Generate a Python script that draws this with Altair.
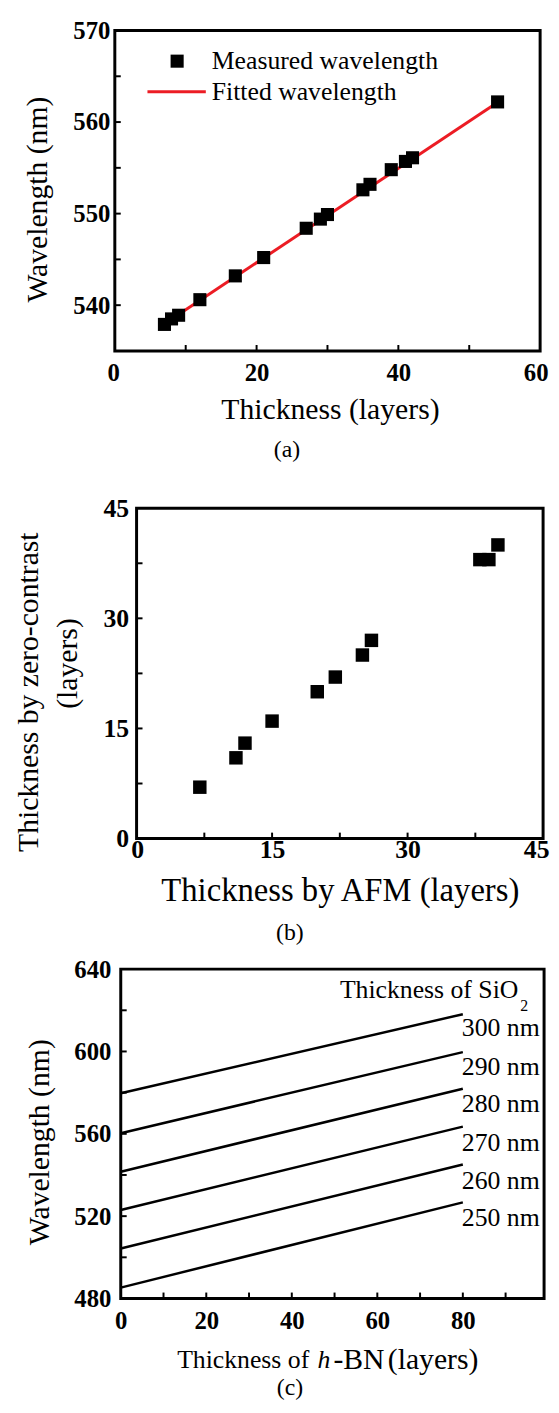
import altair as alt
import pandas as pd

FONT = "Liberation Serif"

# ---------------- data ----------------
# panel (a)
a_thick = [7, 8, 9, 12, 17, 21, 27, 29, 30, 35, 36, 39, 41, 42, 54]
a_wave = [537.9, 538.5, 538.9, 540.6, 543.2, 545.2, 548.4, 549.4, 549.9, 552.6, 553.2, 554.8, 555.7, 556.1, 562.2]
a_fit_x = [6.5, 54.5]
a_fit_y = [537.7, 562.4]
a_xlabels = [0, 20, 40, 60]
a_ylabels = [540, 550, 560, 570]
a_xticks = [10, 20, 30, 40, 50]
a_yticks = [540, 545, 550, 555, 560, 565]

# panel (b)
b_afm = [7, 11, 12, 15, 20, 22, 25, 26, 38, 39, 40]
b_zc = [7, 11, 13, 16, 20, 22, 25, 27, 38, 38, 40]
b_labels = [0, 15, 30, 45]
b_ticks = [7.5, 15, 22.5, 30, 37.5]

# panel (c)
c_sio2 = ["300 nm", "290 nm", "280 nm", "270 nm", "260 nm", "250 nm"]
c_x = [0, 80]
c_start = [579.7, 560.3, 541.6, 523.0, 504.3, 485.3]
c_end = [618.1, 599.7, 581.9, 563.5, 545.1, 526.7]
c_label_y = [611.2, 592.3, 574.4, 555.7, 537.1, 518.9]
c_xlabels = [0, 20, 40, 60, 80]
c_ylabels = [480, 520, 560, 600, 640]
c_xticks = [10, 20, 30, 40, 50, 60, 70, 80, 90]
c_yticks = [500, 520, 540, 560, 580, 600, 620]

SPACER = 1
FRAME = alt.ViewConfig(stroke="black", strokeWidth=3)


def one(text):
    return alt.Chart(pd.DataFrame({"t": [text]}))


def label(text, x, y, size, angle=0, align="center", weight="normal", style="normal", baseline="middle"):
    kw = dict(font=FONT, fontSize=size, align=align, baseline=baseline, color="black",
              fontWeight=weight, fontStyle=style)
    if angle:
        kw["angle"] = angle
    return one(text).mark_text(**kw).encode(x=alt.value(x), y=alt.value(y), text="t:N")


def anchor(L, T, top_page, bot_page):
    # white (invisible) rule that fixes the panel's layout bounds
    return one("a").mark_rule(color="white", strokeWidth=1).encode(
        x=alt.value(-(L - 8 - SPACER)), y=alt.value(top_page - T), y2=alt.value(bot_page - T))


def axis(values, size, pad, flush=0, bottom=False):
    kw = dict(values=values, title=None, grid=False, ticks=False, tickSize=0, domain=False,
              labelFont=FONT, labelFontWeight="bold", labelFontSize=size, labelColor="black",
              labelPadding=pad, labelOverlap=False, format="d")
    if bottom:
        kw["labelBaseline"] = "middle"
    if flush:
        kw["labelFlush"] = True
        kw["labelFlushOffset"] = flush
    else:
        kw["labelFlush"] = False
    return alt.Axis(**kw)


def inner_ticks(xvals, yvals, xs, ys, xax, yax, H, length=6):
    xt = alt.Chart(pd.DataFrame({"x": xvals})).mark_rule(color="black", strokeWidth=2).encode(
        x=alt.X("x:Q", scale=xs, axis=xax), y=alt.value(H), y2=alt.value(H - length))
    yt = alt.Chart(pd.DataFrame({"y": yvals})).mark_rule(color="black", strokeWidth=2).encode(
        y=alt.Y("y:Q", scale=ys, axis=yax), x=alt.value(0), x2=alt.value(length))
    return xt, yt


def row(panel):
    spacer = one("s").mark_rule(color="white", strokeWidth=1).encode(
        x=alt.value(0), x2=alt.value(SPACER), y=alt.value(0)
    ).properties(width=SPACER, height=1, view=alt.ViewConfig(stroke="transparent", strokeWidth=0))
    return alt.hconcat(spacer, panel, spacing=0).resolve_scale(x="independent", y="independent")


# ---------------- panel (a) ----------------
LA, TA, WA, HA = 112, 21, 430, 324
xs_a = alt.Scale(domain=[0, 60], nice=False, zero=False)
ys_a = alt.Scale(domain=[535, 570], nice=False, zero=False)
xax_a = axis(a_xlabels, 25, 22, flush=8, bottom=True)
yax_a = axis(a_ylabels, 25, 5)

df_a = pd.DataFrame({"x": a_thick, "y": a_wave})
df_fit = pd.DataFrame({"x": a_fit_x, "y": a_fit_y})
pts_a = alt.Chart(df_a).mark_square(color="black", size=175, opacity=1).encode(
    x=alt.X("x:Q", scale=xs_a, axis=xax_a), y=alt.Y("y:Q", scale=ys_a, axis=yax_a))
fit_a = alt.Chart(df_fit).mark_line(color="#ec1c24", strokeWidth=3).encode(
    x=alt.X("x:Q", scale=xs_a, axis=xax_a), y=alt.Y("y:Q", scale=ys_a, axis=yax_a))
xt_a, yt_a = inner_ticks(a_xticks, a_yticks, xs_a, ys_a, xax_a, yax_a, HA)
leg_sq = one("s").mark_square(color="black", size=175, opacity=1).encode(x=alt.value(63), y=alt.value(31))
leg_ln = one("l").mark_rule(color="#ec1c24", strokeWidth=3).encode(
    x=alt.value(33), x2=alt.value(92), y=alt.value(62))
panel_a = alt.layer(
    anchor(LA, TA, 8, 465), xt_a, yt_a, fit_a, pts_a, leg_sq, leg_ln,
    label("Measured wavelength", 98, 31, 26, align="left"),
    label("Fitted wavelength", 98, 62, 26, align="left"),
    label("Wavelength (nm)", -78, 171, 30, angle=270),
    label("Thickness (layers)", 218, 384, 30),
    label("(a)", 174, 424, 24),
).properties(width=WA, height=HA, view=FRAME)

# ---------------- panel (b) ----------------
LB, TB, WB, HB = 134, 500, 411, 334
xs_b = alt.Scale(domain=[0, 45], nice=False, zero=False)
ys_b = alt.Scale(domain=[0, 45], nice=False, zero=False)
xax_b = axis(b_labels, 26, 11, flush=6, bottom=True)
yax_b = axis(b_labels, 26, 8)
df_b = pd.DataFrame({"x": b_afm, "y": b_zc})
pts_b = alt.Chart(df_b).mark_square(color="black", size=185, opacity=1).encode(
    x=alt.X("x:Q", scale=xs_b, axis=xax_b), y=alt.Y("y:Q", scale=ys_b, axis=yax_b))
xt_b, yt_b = inner_ticks(b_ticks, b_ticks, xs_b, ys_b, xax_b, yax_b, HB)
panel_b = alt.layer(
    anchor(LB, TB, 465, 948), xt_b, yt_b, pts_b,
    label("Thickness by zero-contrast", -109, 186, 30, angle=270),
    label("(layers)", -69, 157, 30, angle=270),
    label("Thickness by AFM (layers)", 206, 387, 33),
    label("(b)", 155, 430, 24),
).properties(width=WB, height=HB, view=FRAME)

# ---------------- panel (c) ----------------
LC, TC, WC, HC = 118, 962, 428, 333
xs_c = alt.Scale(domain=[0, 99], nice=False, zero=False)
ys_c = alt.Scale(domain=[480, 640], nice=False, zero=False)
xax_c = axis(c_xlabels, 25, 22, bottom=True)
yax_c = axis(c_ylabels, 25, 10)
rows = []
for s, y0, y1 in zip(c_sio2, c_start, c_end):
    rows.append({"s": s, "x": c_x[0], "y": y0})
    rows.append({"s": s, "x": c_x[1], "y": y1})
df_c = pd.DataFrame(rows)
df_cl = pd.DataFrame({"s": c_sio2, "x": [c_x[1]] * len(c_sio2), "y": c_label_y})
lines_c = alt.Chart(df_c).mark_line(color="black", strokeWidth=2.5).encode(
    x=alt.X("x:Q", scale=xs_c, axis=xax_c), y=alt.Y("y:Q", scale=ys_c, axis=yax_c), detail="s:N")
labs_c = alt.Chart(df_cl).mark_text(font=FONT, fontSize=26, align="left", baseline="middle",
                                    color="black", dx=-1).encode(
    x=alt.X("x:Q", scale=xs_c, axis=xax_c), y=alt.Y("y:Q", scale=ys_c, axis=yax_c), text="s:N")
xt_c, yt_c = inner_ticks(c_xticks, c_yticks, xs_c, ys_c, xax_c, yax_c, HC)
panel_c = alt.layer(
    anchor(LC, TC, 948, 1396), xt_c, yt_c, lines_c, labs_c,
    label("Thickness of SiO", 402, 21, 26, align="right"),
    label("2", 404, 37, 16, align="left"),
    label("Wavelength (nm)", -82, 175, 30, angle=270),
    label("Thickness of", 57, 395, 26, align="left"),
    label("h", 199, 395, 26, align="left", style="italic"),
    label("-BN", 215, 395, 30, align="left"),
    label("(layers)", 270, 395, 30, align="left"),
    label("(c)", 171, 424, 24),
).properties(width=WC, height=HC, view=FRAME)

chart = alt.concat(row(panel_a), row(panel_b), row(panel_c), columns=1, spacing=0,
                   padding=0, background="white").resolve_scale(x="independent", y="independent")

chart.save("out.html", embed_options={"renderer": "svg", "actions": False})
